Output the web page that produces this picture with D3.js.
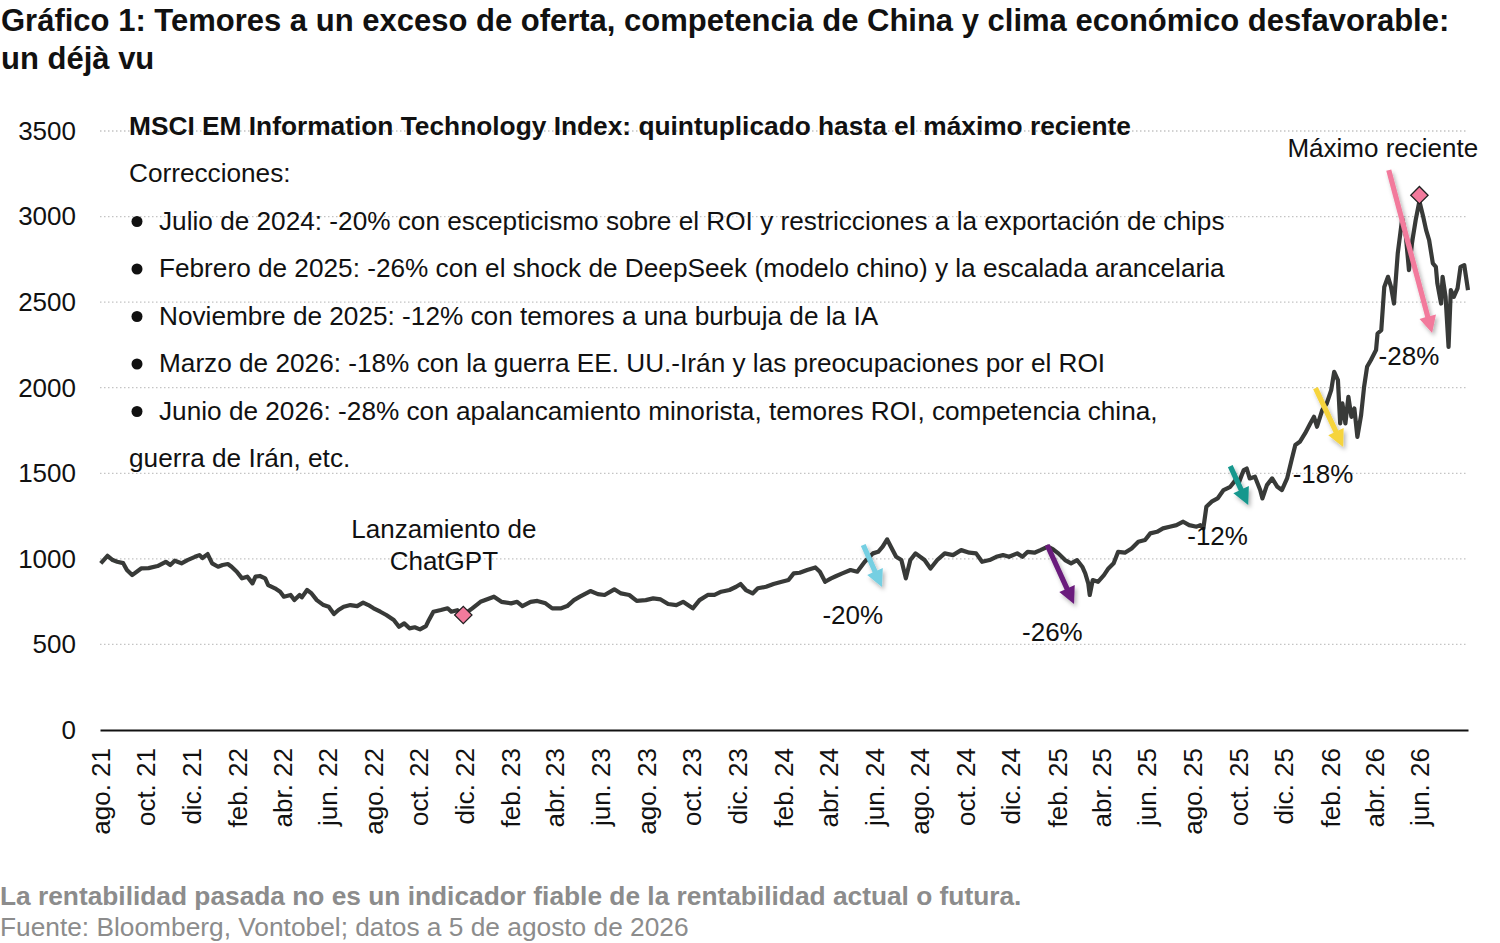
<!DOCTYPE html>
<html>
<head>
<meta charset="utf-8">
<script src="https://cdn.jsdelivr.net/npm/d3@7"></script>
<style>
  body { margin: 0; background: #fff; }
  svg { font-family: "Liberation Sans", Arial, sans-serif; }
</style>
</head>
<body>
<svg id="chart" width="1500" height="943"></svg>
<script>
// MSCI EM Information Technology Index
const dates = [
  "2021-08-02","2021-08-11","2021-08-18","2021-08-24","2021-09-01","2021-09-06","2021-09-13","2021-09-25",
  "2021-10-05","2021-10-17","2021-10-28","2021-11-03","2021-11-09","2021-11-18","2021-11-26","2021-12-06",
  "2021-12-12","2021-12-16","2021-12-23","2021-12-29","2022-01-06","2022-01-12","2022-01-19","2022-01-24",
  "2022-01-31","2022-02-07","2022-02-14","2022-02-21","2022-02-25","2022-03-03","2022-03-10","2022-03-14",
  "2022-03-23","2022-03-30","2022-04-04","2022-04-13","2022-04-18","2022-04-25","2022-04-28","2022-05-05",
  "2022-05-11","2022-05-18","2022-05-27","2022-06-03","2022-06-10","2022-06-16","2022-06-23","2022-07-02",
  "2022-07-11","2022-07-19","2022-07-26","2022-08-02","2022-08-11","2022-08-19","2022-08-29","2022-09-05",
  "2022-09-12","2022-09-19","2022-09-26","2022-10-03","2022-10-11","2022-10-15","2022-10-21","2022-10-31",
  "2022-11-09","2022-11-14","2022-11-22","2022-11-30","2022-12-12","2022-12-23","2023-01-10","2023-01-20",
  "2023-02-02","2023-02-10","2023-02-17","2023-02-28","2023-03-09","2023-03-20","2023-03-29","2023-04-10",
  "2023-04-18","2023-04-27","2023-05-05","2023-05-19","2023-05-29","2023-06-07","2023-06-20","2023-06-29",
  "2023-07-10","2023-07-20","2023-08-01","2023-08-11","2023-08-21","2023-08-31","2023-09-11","2023-09-20",
  "2023-10-03","2023-10-12","2023-10-23","2023-11-01","2023-11-10","2023-11-21","2023-11-30","2023-12-06",
  "2023-12-13","2023-12-22","2023-12-29","2024-01-09","2024-01-19","2024-01-30","2024-02-08","2024-02-15",
  "2024-02-23","2024-03-04","2024-03-15","2024-03-21","2024-03-28","2024-04-05","2024-04-12","2024-04-20",
  "2024-05-01","2024-05-10","2024-05-20","2024-05-31","2024-06-07","2024-06-13","2024-06-19","2024-06-24",
  "2024-07-01","2024-07-08","2024-07-14","2024-07-20","2024-07-27","2024-08-08","2024-08-16","2024-08-25",
  "2024-09-04","2024-09-15","2024-09-26","2024-10-07","2024-10-16","2024-10-24","2024-11-03","2024-11-12",
  "2024-11-21","2024-11-29","2024-12-10","2024-12-17","2024-12-24","2025-01-02","2025-01-10","2025-01-20",
  "2025-01-27","2025-02-03","2025-02-12","2025-02-20","2025-02-28","2025-03-07","2025-03-11","2025-03-15",
  "2025-03-17","2025-03-21","2025-03-28","2025-04-05","2025-04-11","2025-04-18","2025-04-24","2025-05-03",
  "2025-05-12","2025-05-21","2025-05-30","2025-06-06","2025-06-15","2025-06-23","2025-07-02","2025-07-11",
  "2025-07-20","2025-07-28","2025-08-07","2025-08-12","2025-08-16","2025-08-20","2025-08-27","2025-09-04",
  "2025-09-12","2025-09-21","2025-09-28","2025-10-02","2025-10-09","2025-10-13","2025-10-17","2025-10-24",
  "2025-10-31","2025-11-03","2025-11-09","2025-11-16","2025-11-23","2025-11-29","2025-12-06","2025-12-12",
  "2025-12-17","2025-12-23","2025-12-30","2026-01-06","2026-01-11","2026-01-15","2026-01-22","2026-01-28",
  "2026-02-03","2026-02-07","2026-02-12","2026-02-15","2026-02-18","2026-02-22","2026-02-26","2026-03-02",
  "2026-03-06","2026-03-10","2026-03-15","2026-03-19","2026-03-23","2026-03-28","2026-04-04","2026-04-06",
  "2026-04-11","2026-04-15","2026-04-20","2026-04-24","2026-04-28","2026-05-03","2026-05-09","2026-05-14",
  "2026-05-18","2026-05-22","2026-05-27","2026-06-01","2026-06-06","2026-06-10","2026-06-14","2026-06-19",
  "2026-06-23","2026-06-25","2026-06-30","2026-07-02","2026-07-06","2026-07-10","2026-07-13","2026-07-17",
  "2026-07-22","2026-07-26","2026-07-31","2026-08-05"
];
const values = [
  974,1018,993,983,975,935,905,944,
  946,958,983,964,989,974,993,1012,
  1022,1005,1028,974,954,964,970,954,
  925,886,896,857,896,900,886,847,
  828,808,779,789,759,789,775,818,
  798,759,730,720,678,701,720,730,
  724,744,730,711,691,672,643,603,
  623,594,600,588,607,643,691,701,
  711,691,700,672,711,749,779,749,
  740,749,724,749,754,740,711,711,
  724,759,779,812,794,789,822,798,
  789,755,759,769,763,736,730,749,
  711,759,789,789,808,818,837,853,
  818,798,828,837,853,866,876,915,
  919,935,950,925,866,886,900,915,
  935,925,983,1032,1041,1071,1114,1071,
  1012,993,886,993,1032,993,944,993,
  1032,1022,1051,1036,1032,983,993,1012,
  1022,1012,1032,1012,1041,1036,1051,1071,
  1055,1032,993,974,993,954,915,857,
  789,876,866,905,944,974,1041,1036,
  1061,1100,1110,1149,1158,1178,1188,1197,
  1217,1197,1188,1197,1178,1304,1334,1353,
  1402,1421,1460,1441,1519,1528,1470,1480,
  1402,1353,1431,1470,1421,1402,1470,1577,
  1665,1684,1733,1791,1830,1772,1869,1908,
  1986,2093,2044,1791,1908,1791,1947,1830,
  1879,1713,1840,2005,2122,2161,2220,2317,
  2336,2589,2648,2589,2492,2784,2989,2881,
  2687,2843,2979,3090,3000,2921,2862,2726,
  2706,2609,2492,2648,2531,2239,2570,2531,
  2580,2706,2716,2570
];

const yTicks = [0, 500, 1000, 1500, 2000, 2500, 3000, 3500];
const monthNames = ["ene.","feb.","mar.","abr.","may.","jun.","jul.","ago.","sept.","oct.","nov.","dic."];

// diamonds
const markerDates = ["2022-11-30", "2026-06-01"];
const markerValues = [672, 3125];

// correction arrows
const arrowStartDates = ["2024-05-18", "2025-01-19", "2025-09-21", "2026-01-13", "2026-04-21"];
const arrowStartValues = [1081, 1081, 1542, 1998, 3271];
const arrowEndDates = ["2024-06-12", "2025-02-24", "2025-10-15", "2026-02-19", "2026-06-18"];
const arrowEndValues = [835, 736, 1314, 1653, 2319];
const arrowColors = ["#74cfe2", "#6b1d7c", "#14978d", "#f6d43c", "#f27a9c"];

// annotation texts
const noteTexts = ["-20%", "-26%", "-12%", "-18%", "-28%", "Máximo reciente", "Lanzamiento de", "ChatGPT"];
const noteDates = ["2024-05-04", "2025-01-26", "2025-09-04", "2026-01-23", "2026-05-18", "2026-04-13", "2022-11-04", "2022-11-04"];
const noteValues = [619, 520, 1081, 1443, 2132, 3347, 1121, 935];

const headerLines = [
  "Correcciones:",
  "Julio de 2024: -20% con escepticismo sobre el ROI y restricciones a la exportación de chips",
  "Febrero de 2025: -26% con el shock de DeepSeek (modelo chino) y la escalada arancelaria",
  "Noviembre de 2025: -12% con temores a una burbuja de la IA",
  "Marzo de 2026: -18% con la guerra EE. UU.-Irán y las preocupaciones por el ROI",
  "Junio de 2026: -28% con apalancamiento minorista, temores ROI, competencia china,",
  "guerra de Irán, etc."
];
const bulleted = [false, true, true, true, true, true, false];

const parse = d3.timeParse("%Y-%m-%d");
const series = dates.map((d, i) => ({ date: parse(d), value: values[i] }));

const svg = d3.select("#chart");
const x = d3.scaleTime().domain([new Date(2021, 7, 1), new Date(2026, 7, 5)]).range([100, 1468]);
const y = d3.scaleLinear().domain([0, 3500]).range([730, 131]);

// title
svg.append("text").attr("x", 1).attr("y", 31)
  .attr("font-size", 31).attr("font-weight", "bold").attr("fill", "#111")
  .text("Gráfico 1: Temores a un exceso de oferta, competencia de China y clima económico desfavorable:");
svg.append("text").attr("x", 1).attr("y", 69)
  .attr("font-size", 31).attr("font-weight", "bold").attr("fill", "#111")
  .text("un déjà vu");

// gridlines
svg.append("g").selectAll("line")
  .data(yTicks.filter(d => d > 0))
  .join("line")
  .attr("x1", 100).attr("x2", 1468)
  .attr("y1", d => y(d)).attr("y2", d => y(d))
  .attr("stroke", "#c4c4c4").attr("stroke-width", 1.3)
  .attr("stroke-dasharray", "1.5,2.5");

// y labels
const yAxis = svg.append("g").attr("transform", "translate(76,0)")
  .call(d3.axisLeft(y).tickValues(yTicks).tickSize(0).tickPadding(0).tickFormat(d3.format("d")));
yAxis.select(".domain").remove();
yAxis.selectAll("text").attr("font-size", 26).attr("fill", "#111")
  .attr("font-family", "Liberation Sans, Arial, sans-serif");

// x axis
const xTicks = d3.timeMonth.range(new Date(2021, 7, 1), new Date(2026, 6, 1), 2);
const xAxis = svg.append("g").attr("transform", `translate(0,${y(0)})`)
  .call(d3.axisBottom(x).tickValues(xTicks).tickSize(0)
    .tickFormat(d => monthNames[d.getMonth()] + " " + d3.timeFormat("%y")(d)));
xAxis.select(".domain").attr("stroke", "#111").attr("stroke-width", 2);
xAxis.selectAll("text")
  .attr("font-size", 26).attr("fill", "#111")
  .attr("font-family", "Liberation Sans, Arial, sans-serif")
  .attr("transform", "rotate(-90)")
  .attr("text-anchor", "end")
  .attr("x", -18).attr("y", 0).attr("dy", "0.36em");

// header block
svg.append("text").attr("x", 129).attr("y", 135)
  .attr("font-size", 26.3).attr("font-weight", "bold").attr("fill", "#111")
  .text("MSCI EM Information Technology Index: quintuplicado hasta el máximo reciente");
headerLines.forEach((t, i) => {
  const yy = 182 + i * 47.5;
  if (bulleted[i]) {
    svg.append("circle").attr("cx", 137).attr("cy", yy - 8).attr("r", 5.5).attr("fill", "#111");
  }
  svg.append("text").attr("x", bulleted[i] ? 159 : 129).attr("y", yy)
    .attr("font-size", 26.2).attr("fill", "#111").text(t);
});

// index line
svg.append("path")
  .datum(series)
  .attr("fill", "none")
  .attr("stroke", "#383a38")
  .attr("stroke-width", 4.2)
  .attr("stroke-linejoin", "round")
  .attr("d", d3.line().x(d => x(d.date)).y(d => y(d.value)));

// arrows with soft shadow
const defs = svg.append("defs");
defs.append("filter").attr("id", "shadow")
  .attr("x", "-50%").attr("y", "-50%").attr("width", "200%").attr("height", "200%")
  .append("feDropShadow")
  .attr("dx", 2).attr("dy", 3).attr("stdDeviation", 2)
  .attr("flood-color", "#000").attr("flood-opacity", 0.3);

function arrowPath(x1, y1, x2, y2) {
  const dx = x2 - x1, dy = y2 - y1, len = Math.hypot(dx, dy);
  const ux = dx / len, uy = dy / len, nx = -uy, ny = ux;
  const head = 17, hw = 8.5, sw = 2.6;
  const bx = x2 - ux * head, by = y2 - uy * head;
  const pts = [
    [x1 + nx * sw, y1 + ny * sw], [bx + nx * sw, by + ny * sw], [bx + nx * hw, by + ny * hw],
    [x2, y2],
    [bx - nx * hw, by - ny * hw], [bx - nx * sw, by - ny * sw], [x1 - nx * sw, y1 - ny * sw]
  ];
  return "M" + pts.map(p => p.join(",")).join("L") + "Z";
}
svg.append("g").selectAll("path")
  .data(arrowColors)
  .join("path")
  .attr("d", (c, i) => arrowPath(
    x(parse(arrowStartDates[i])), y(arrowStartValues[i]),
    x(parse(arrowEndDates[i])), y(arrowEndValues[i])))
  .attr("fill", c => c)
  .attr("filter", "url(#shadow)");

// diamonds
svg.append("g").selectAll("path")
  .data(markerDates)
  .join("path")
  .attr("d", d3.symbol(d3.symbolSquare, 150)())
  .attr("transform", (d, i) => `translate(${x(parse(d))},${y(markerValues[i])}) rotate(45)`)
  .attr("fill", "#f27a9c").attr("stroke", "#222").attr("stroke-width", 1.3);

// annotation texts
svg.append("g").selectAll("text")
  .data(noteTexts)
  .join("text")
  .attr("x", (t, i) => x(parse(noteDates[i])))
  .attr("y", (t, i) => y(noteValues[i]))
  .attr("text-anchor", "middle")
  .attr("font-size", 26).attr("fill", "#111")
  .text(t => t);

// footer
svg.append("text").attr("x", 0).attr("y", 905)
  .attr("font-size", 26.3).attr("font-weight", "bold").attr("fill", "#8c8c8c")
  .text("La rentabilidad pasada no es un indicador fiable de la rentabilidad actual o futura.");
svg.append("text").attr("x", 0).attr("y", 936)
  .attr("font-size", 26.3).attr("fill", "#8c8c8c")
  .text("Fuente: Bloomberg, Vontobel; datos a 5 de agosto de 2026");
</script>
</body>
</html>
